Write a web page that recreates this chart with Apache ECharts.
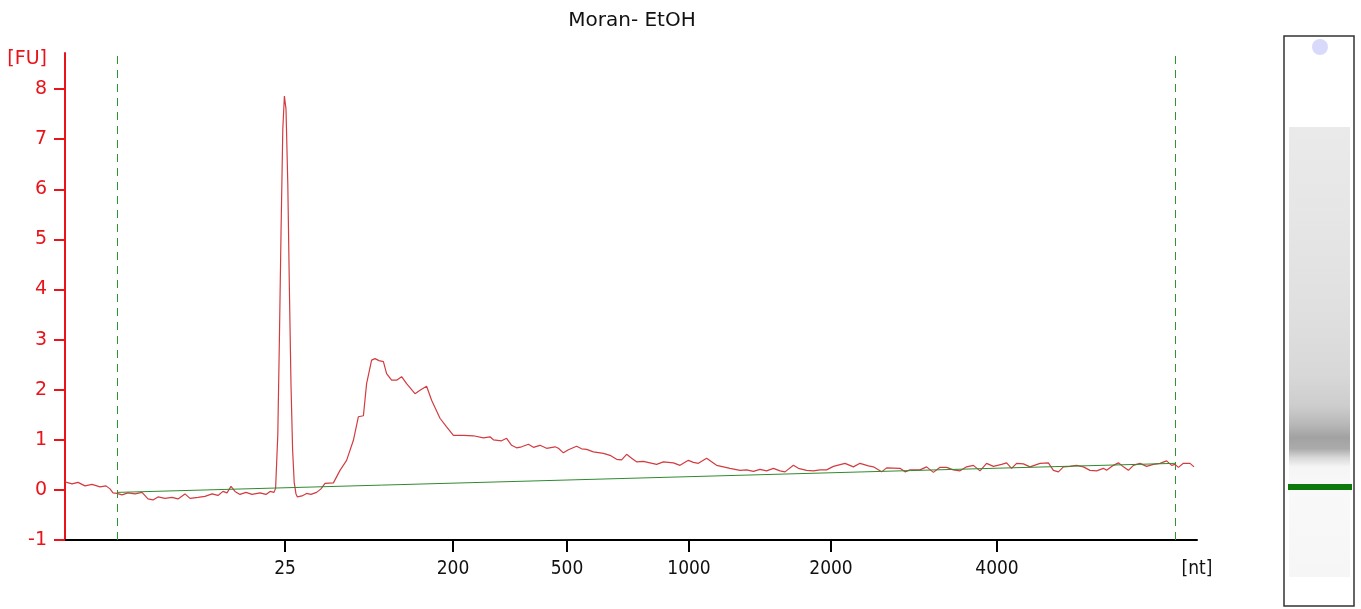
<!DOCTYPE html>
<html>
<head>
<meta charset="utf-8">
<style>
  html, body { margin: 0; padding: 0; background: #fff; }
  #container { width: 1361px; height: 609px; }
</style>
<script src="https://cdn.jsdelivr.net/npm/echarts@6/dist/echarts.min.js"></script>
</head>
<body>
<div id="container"></div>
<script>
var dom = document.getElementById('container');
var myChart = echarts.init(dom, null, {
  renderer: 'canvas',
  useDirtyRect: false
});
var option;

// migration time (s) and fluorescence (FU)
const times = [
  20.00, 20.35, 20.65, 21.00, 21.35, 21.75, 22.05, 22.25, 22.40, 22.60,
  22.85, 23.15, 23.50, 23.85, 24.15, 24.40, 24.65, 25.00, 25.35, 25.65,
  26.00, 26.25, 26.65, 27.00, 27.35, 27.65, 27.90, 28.10, 28.30, 28.50,
  28.75, 29.05, 29.35, 29.75, 30.05, 30.25, 30.45,
  30.53, 30.64, 30.72, 30.80, 30.89, 30.97, 31.05, 31.14, 31.22, 31.30, 31.38,
  31.46, 31.55, 31.62,
  31.67, 31.85, 32.08, 32.30, 32.58, 32.80, 33.00, 33.42, 33.75, 34.08,
  34.42, 34.67, 34.92, 35.08, 35.33, 35.50, 35.70, 35.92, 36.08, 36.33,
  36.58, 36.83, 37.08, 37.50, 37.75, 38.08, 38.33, 38.75, 39.08, 39.42,
  39.92,
  40.42, 40.92, 41.25, 41.42, 41.83, 42.08, 42.33, 42.58, 42.83, 43.17,
  43.42, 43.75, 44.08, 44.50, 44.67, 44.92, 45.17, 45.58, 45.83, 46.08,
  46.42, 46.92, 47.25, 47.58, 47.83, 48.08, 48.33, 48.58, 48.92, 49.25,
  49.58, 49.92, 50.42, 50.75, 51.17, 51.42, 51.67, 51.75, 52.08, 52.58,
  52.92, 53.25, 53.75, 54.08, 54.42, 54.75, 55.08, 55.42, 55.75, 56.00,
  56.42, 56.67, 57.08, 57.42, 57.75, 58.08, 58.42, 59.00, 59.42, 59.75,
  60.17, 60.42, 60.83, 61.08, 61.75, 62.00, 62.25, 62.75, 63.08, 63.42,
  63.75, 64.08, 64.42, 64.75, 65.08, 65.42, 65.75, 66.08, 66.42, 66.83,
  67.08, 67.33, 67.58, 67.92, 68.25, 68.75, 69.17, 69.42, 69.67, 69.92,
  70.25, 70.58, 70.92, 71.25, 71.58, 71.92, 72.08, 72.42, 72.67, 72.92,
  73.17, 73.42, 73.75, 74.08, 74.42, 74.75, 75.08, 75.33, 75.50, 75.67,
  75.92, 76.25, 76.45
];
const fu = [
  0.16, 0.12, 0.15, 0.08, 0.11, 0.06, 0.08, 0.02, -0.06, -0.07,
  -0.10, -0.06, -0.08, -0.05, -0.18, -0.20, -0.14, -0.17, -0.15, -0.18,
  -0.08, -0.17, -0.15, -0.13, -0.08, -0.11, -0.03, -0.06, 0.07, -0.03,
  -0.09, -0.05, -0.09, -0.06, -0.09, -0.03, -0.05,
  0.03, 1.10, 3.00, 5.10, 7.20, 7.86, 7.60, 6.10, 4.00, 2.10, 0.80,
  0.15, -0.08, -0.14,
  -0.14, -0.12, -0.07, -0.09, -0.05, 0.02, 0.13, 0.14, 0.39, 0.59,
  0.99, 1.46, 1.48, 2.12, 2.59, 2.62, 2.58, 2.56, 2.32, 2.19,
  2.19, 2.26, 2.12, 1.92, 1.99, 2.07, 1.79, 1.43, 1.26, 1.09,
  1.09,
  1.08, 1.04, 1.06, 1.00, 0.98, 1.03, 0.89, 0.84, 0.86, 0.91,
  0.85, 0.89, 0.83, 0.86, 0.83, 0.74, 0.80, 0.87, 0.82, 0.81,
  0.76, 0.73, 0.69, 0.61, 0.60, 0.71, 0.63, 0.56, 0.57, 0.54,
  0.51, 0.56, 0.54, 0.49, 0.59, 0.55, 0.53, 0.56, 0.63, 0.49,
  0.46, 0.43, 0.39, 0.40, 0.37, 0.41, 0.38, 0.43, 0.38, 0.36,
  0.49, 0.43, 0.39, 0.38, 0.40, 0.40, 0.47, 0.53, 0.46, 0.53,
  0.48, 0.46, 0.36, 0.44, 0.43, 0.36, 0.40, 0.40, 0.46, 0.35,
  0.45, 0.45, 0.40, 0.38, 0.46, 0.49, 0.38, 0.53, 0.47, 0.51,
  0.54, 0.43, 0.53, 0.52, 0.46, 0.53, 0.54, 0.39, 0.36, 0.46,
  0.47, 0.49, 0.46, 0.39, 0.38, 0.43, 0.39, 0.49, 0.54, 0.46,
  0.39, 0.49, 0.53, 0.47, 0.51, 0.53, 0.58, 0.49, 0.51, 0.45,
  0.53, 0.53, 0.46
];

// ladder: size (nt) and where it sits on the time axis
const ladderSizes = [25, 200, 500, 1000, 2000, 4000];
const ladderTimes = [31.0, 39.4, 45.1, 51.2, 58.3, 66.6];

const markerTimes = [22.625, 75.525];       // lower / upper marker
const baselineTimes = [22.6, 75.5];
const baselineFu = [-0.05, 0.53];

const yTicks = [-1, 0, 1, 2, 3, 4, 5, 6, 7, 8];
const xMin = 20, xMax = 76.6;
const yMin = -1, yMax = 8.72;

const red = '#e8141a';
const traceColor = '#d23c40';
const markerGreen = '#2f962f';
const fontFam = 'DejaVu Sans';
const condFam = "'DejaVu Sans Condensed', 'DejaVu Sans'";

let traceData = times.map((t, i) => [t, fu[i]]);
let baselineData = baselineTimes.map((t, i) => [t, baselineFu[i]]);

// one dashed vertical series per marker
let markerSeries = markerTimes.map(t => ({
  name: 'marker',
  type: 'line',
  data: [[t, yMin], [t, yMax]],
  showSymbol: false,
  silent: true,
  lineStyle: { color: markerGreen, width: 1, type: [8, 6] },
  z: 1
}));

option = {
  animation: false,
  title: {
    text: 'Moran- EtOH',
    left: 627,
    top: 6,
    textAlign: 'center',
    textStyle: {
      fontFamily: fontFam,
      fontSize: 20,
      fontWeight: 'normal',
      color: '#111'
    }
  },
  grid: {
    left: 65,
    right: 164,
    top: 53,
    bottom: 69,
    containLabel: false,
    outerBoundsMode: 'none'
  },
  xAxis: {
    type: 'value',
    min: xMin,
    max: xMax,
    splitLine: { show: false },
    axisLine: {
      show: true,
      onZero: false,
      lineStyle: { color: '#000', width: 2 }
    },
    axisTick: {
      show: true,
      length: 12,
      customValues: ladderTimes,
      lineStyle: { color: '#000', width: 2 }
    },
    axisLabel: {
      customValues: ladderTimes.concat([xMax]),
      margin: 20,
      fontFamily: condFam,
      fontSize: 19,
      color: '#111',
      formatter: function (v) {
        for (var i = 0; i < ladderTimes.length; i++) {
          if (Math.abs(ladderTimes[i] - v) < 1e-6) return String(ladderSizes[i]);
        }
        return '[nt]';
      }
    }
  },
  yAxis: {
    type: 'value',
    min: yMin,
    max: yMax,
    name: '[FU]',
    nameLocation: 'end',
    nameGap: -6,
    nameTextStyle: {
      color: red,
      fontFamily: fontFam,
      fontSize: 19,
      align: 'right',
      verticalAlign: 'middle',
      padding: [0, 18, 0, 0]
    },
    splitLine: { show: false },
    axisLine: {
      show: true,
      lineStyle: { color: red, width: 2 }
    },
    axisTick: {
      show: true,
      length: 11,
      customValues: yTicks,
      lineStyle: { color: red, width: 2 }
    },
    axisLabel: {
      customValues: yTicks,
      margin: 18,
      fontFamily: fontFam,
      fontSize: 19,
      color: red
    }
  },
  series: markerSeries.concat([
    {
      name: 'baseline',
      type: 'line',
      data: baselineData,
      showSymbol: false,
      silent: true,
      lineStyle: { color: '#2f8a2f', width: 1 },
      z: 3
    },
    {
      name: 'trace',
      type: 'line',
      data: traceData,
      showSymbol: false,
      silent: true,
      lineStyle: { color: traceColor, width: 1.2 },
      z: 2
    }
  ]),
  // gel lane on the right
  graphic: [
    {
      type: 'rect',
      shape: { x: 1284, y: 36, width: 70, height: 570 },
      style: { fill: '#fff', stroke: '#333', lineWidth: 1.5 }
    },
    {
      type: 'rect',
      shape: { x: 1289, y: 127, width: 61, height: 450 },
      style: {
        fill: new echarts.graphic.LinearGradient(0, 0, 0, 1, [
          { offset: 0, color: '#eaeaea' },
          { offset: 0.2, color: '#e6e6e6' },
          { offset: 0.4, color: '#e0e0e0' },
          { offset: 0.55, color: '#d8d8d8' },
          { offset: 0.62, color: '#cdcdcd' },
          { offset: 0.66, color: '#b8b8b8' },
          { offset: 0.69, color: '#a2a2a2' },
          { offset: 0.715, color: '#ababab' },
          { offset: 0.735, color: '#d8d8d8' },
          { offset: 0.755, color: '#f5f5f5' },
          { offset: 0.8, color: '#f9f9f9' },
          { offset: 1, color: '#f6f6f6' }
        ])
      }
    },
    {
      type: 'rect',
      shape: { x: 1288, y: 484, width: 64, height: 6 },
      style: { fill: '#0b7a0b' }
    },
    {
      type: 'circle',
      shape: { cx: 1320, cy: 47, r: 8 },
      style: { fill: '#d9d9fb' }
    }
  ]
};

if (option && typeof option === 'object') {
  myChart.setOption(option);
}

window.addEventListener('resize', myChart.resize);
</script>
</body>
</html>
